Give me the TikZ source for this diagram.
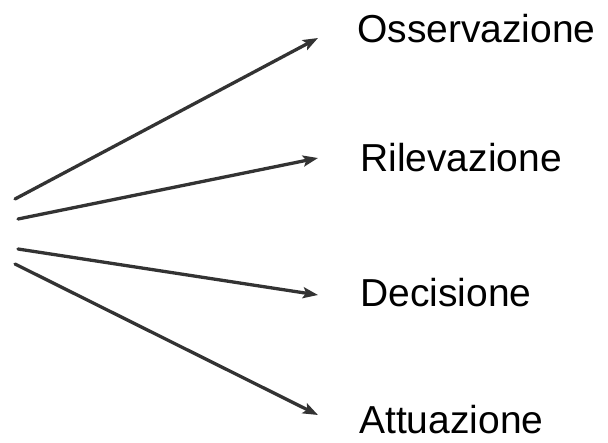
\documentclass[tikz,border=0pt]{standalone}
\usepackage{fontspec}
\setmainfont{Liberation Sans}
\usetikzlibrary{arrows.meta}
\definecolor{arrowgray}{HTML}{333333}
\begin{document}
\begin{tikzpicture}[x=1pt,y=-1pt,
  label/.style={anchor=base west,inner sep=0pt,font=\fontsize{39}{45}\selectfont},
  conn/.style={draw=arrowgray,line width=3.3pt,line cap=round,-{Stealth[length=15pt,width=11pt,inset=3pt]}}]
\useasboundingbox (0,0) rectangle (608,442);
\node[label] (obs) at (357,42) {Osservazione};
\node[label] (ril) at (360,171) {Rilevazione};
\node[label] (dec) at (360,306) {Decisione};
\node[label] (att) at (359,433) {Attuazione};
\coordinate (s1) at (15,199);
\coordinate (s2) at (18,219);
\coordinate (s3) at (18,249);
\coordinate (s4) at (15,264);
\coordinate (e1) at (318,38);
\coordinate (e2) at (318,158);
\coordinate (e3) at (318,295);
\coordinate (e4) at (318,415);
\draw[conn] (s1) -- (e1);
\draw[conn] (s2) -- (e2);
\draw[conn] (s3) -- (e3);
\draw[conn] (s4) -- (e4);
\end{tikzpicture}
\end{document}
